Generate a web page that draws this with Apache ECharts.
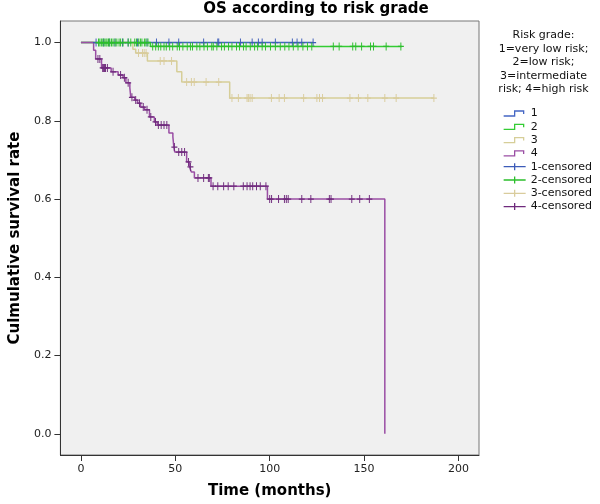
<!DOCTYPE html>
<html>
<head>
<meta charset="utf-8">
<script src="https://cdn.jsdelivr.net/npm/echarts@6/dist/echarts.min.js"></script>
<style>html,body{margin:0;padding:0;background:#fff}#c{width:600px;height:504px}</style>
</head>
<body>
<div id="c"></div>
<script>
// ---- data ----
const xTicks = [0, 50, 100, 150, 200];
const yTicks = [0, 0.2, 0.4, 0.6, 0.8, 1.0];

const g1Times = [0, 123];
const g1Surv  = [1, 1];
const g1Censor = [8, 12, 15, 18, 22, 25, 30, 35, 40, 46.6, 51.8, 65, 72.5, 73, 84.5, 90.7, 94, 96, 103, 112, 114.5, 117, 123];

const g2Times = [0, 36.8, 170];
const g2Surv  = [1, 0.99, 0.99];
const g2Censor = [9.3, 10, 10.8, 11.6, 12.3, 13.2, 13.8, 14.6, 15.3, 16.2, 17, 18.1, 19, 20.2, 21, 22.3, 25, 26.4, 28.5, 29.4, 30.6, 31.5, 32.3, 33.6, 34.4, 35.5,
  38, 39.6, 41, 42.3, 44, 45.2, 47, 48.6, 51, 52.2, 54, 56.3, 58, 59.1, 61.4, 63, 65.2, 67, 69.3, 70.1, 72, 74.5, 76, 78.2, 80, 82.4, 84, 86.1, 87.5, 89.7, 92, 93.6, 96, 97.8,
  100.4, 103, 105.6, 108, 110.2, 112.5, 115, 117.6, 120, 122.3, 133.7, 136.8, 144, 145.6, 148.7, 153.4, 155, 161.7, 169.5];

const g3Times = [0, 27.5, 29, 35.2, 50.8, 53.4, 78.8, 187];
const g3Surv  = [1, 0.983, 0.973, 0.953, 0.925, 0.899, 0.858, 0.858];
const g3Censor = [30.5, 32.6, 33.5, 34.5, 42, 44, 48, 56, 58.5, 60, 66.3, 73, 80, 83.4, 88, 88.7, 89.6, 90.7, 100.9, 105, 107.8, 118, 125, 126.4, 128, 142.5, 147, 152, 161, 167, 187];

const g4Times = [0, 6.7, 7.8, 10.9, 16, 19.7, 22.3, 23.8, 25.9, 26.4, 28.5, 30, 31.6, 33.7, 36.3, 38.9, 40.4, 46.6, 48.7, 49.2, 49.7, 56, 57.5, 58.5, 60.1, 68.9, 98.8, 161];
const g4Surv  = [1, 0.98, 0.958, 0.935, 0.925, 0.917, 0.91, 0.897, 0.884, 0.86, 0.853, 0.845, 0.835, 0.828, 0.81, 0.797, 0.789, 0.769, 0.759, 0.733, 0.72, 0.695, 0.682, 0.669, 0.654, 0.633, 0.6, 0];
const g4Censor = [9, 10, 11.5, 12, 12.5, 13, 14, 17, 21, 23, 25, 27, 29, 31, 33, 35, 37, 39.5, 41, 42.5, 44, 45.5, 49.5, 51.8, 53.4, 54.9, 57, 58, 62, 65, 67.5, 68,
  70, 72.5, 75.6, 78, 81, 86, 88, 89.6, 91, 93, 95, 98, 100, 101, 104.7, 107.8, 108.8, 109.8, 117, 121.8, 131.6, 132.5, 143.5, 147.7, 152.8];

const groupNames = ['1', '2', '3', '4'];
const censorNames = ['1-censored', '2-censored', '3-censored', '4-censored'];
const legendTitle = 'Risk grade:\n1=very low risk;\n2=low risk;\n3=intermediate\nrisk; 4=high risk';
const chartTitle = 'OS according to risk grade';
const xName = 'Time (months)';
const yName = 'Culmulative survival rate';

// ---- styling ----
const lineColors = ['#4466c4', '#33cc33', '#d6ce98', '#9a4ea4'];
const markColors = ['#3c5bb8', '#2bbf2b', '#d9cc9c', '#6f2a7c'];
const FONT = 'DejaVu Sans';

const groups = [
  [g1Times, g1Surv, g1Censor],
  [g2Times, g2Surv, g2Censor],
  [g3Times, g3Surv, g3Censor],
  [g4Times, g4Surv, g4Censor]
];

function survAt(times, surv, t) {
  let s = surv[0];
  for (let i = 0; i < times.length; i++) { if (times[i] <= t) s = surv[i]; }
  return s;
}

const series = [];
groups.forEach((g, i) => {
  series.push({
    name: groupNames[i], type: 'line', step: 'end', showSymbol: false, symbol: 'none',
    data: g[0].map((t, k) => [t, g[1][k]]),
    lineStyle: { color: lineColors[i], width: 1.5 }, itemStyle: { color: lineColors[i] },
    clip: false, z: 2 + i
  });
});
const crossPath = 'path://M0,4L6,4M3,0L3,8';
groups.forEach((g, i) => {
  series.push({
    name: censorNames[i], type: 'scatter', symbol: crossPath, symbolSize: [6, 8],
    data: g[2].map(t => [t, survAt(g[0], g[1], t)]),
    itemStyle: { color: 'rgba(0,0,0,0)', borderColor: markColors[i], borderWidth: 1.1, opacity: 1 },
    clip: false, z: 6 + i
  });
});

const stepIcon = 'path://M0,0M22,8M0,6.5L11,6.5L11,1.5L20,1.5L20,4.5';
const crossIcon = 'path://M0,4L22,4M11,0.5L11,7.5';
const legendData = [];
groupNames.forEach((n, i) => legendData.push({ name: n, icon: stepIcon,
  itemStyle: { color: 'rgba(0,0,0,0)', borderColor: lineColors[i], borderWidth: 1.3 } }));
censorNames.forEach((n, i) => legendData.push({ name: n, icon: crossIcon,
  itemStyle: { color: 'rgba(0,0,0,0)', borderColor: markColors[i], borderWidth: 1.3 } }));

const chart = echarts.init(document.getElementById('c'), null, { renderer: 'canvas' });
chart.setOption({
  animation: false,
  backgroundColor: '#ffffff',
  grid: { left: 51, top: 21, width: 428, height: 434, show: true, backgroundColor: '#f0f0f0', borderColor: '#777', borderWidth: 1 },
  xAxis: {
    type: 'value', min: -10.9, max: 210.9,
    name: xName, nameLocation: 'middle', nameGap: 29,
    nameTextStyle: { fontFamily: FONT, fontWeight: 'bold', fontSize: 15, color: '#000' },
    axisLine: { show: true, onZero: false, lineStyle: { color: '#333', width: 1 } },
    axisTick: { show: true, length: 6, customValues: xTicks, lineStyle: { color: '#333' } },
    axisLabel: { customValues: xTicks, margin: 9, fontFamily: FONT, fontSize: 11, color: '#222' },
    splitLine: { show: false }
  },
  yAxis: {
    type: 'value', min: -0.054, max: 1.055,
    name: yName, nameLocation: 'middle', nameGap: 32, nameRotate: 90,
    nameTextStyle: { fontFamily: FONT, fontWeight: 'bold', fontSize: 15, color: '#000' },
    axisLine: { show: true, onZero: false, lineStyle: { color: '#333', width: 1 } },
    axisTick: { show: true, length: 6, customValues: yTicks, lineStyle: { color: '#333' } },
    axisLabel: { customValues: yTicks, margin: 9, fontFamily: FONT, fontSize: 11, color: '#222',
      formatter: v => v.toFixed(1) },
    splitLine: { show: false }
  },
  legend: {
    orient: 'vertical', left: 498, top: 102, itemWidth: 22, itemHeight: 8, itemGap: 0.3,
    textStyle: { fontFamily: FONT, fontSize: 11, color: '#111', lineHeight: 13 },
    data: legendData, selectedMode: false
  },
  graphic: [
    { type: 'text', x: 316, y: 9, style: { text: chartTitle, font: 'bold 15px "DejaVu Sans"', fill: '#000', textAlign: 'center', textVerticalAlign: 'middle' } },
    { type: 'text', x: 543.5, y: 28.5, style: { text: legendTitle, font: '11px "DejaVu Sans"', fill: '#111', textAlign: 'center', textVerticalAlign: 'top', lineHeight: 13.5 } }
  ],
  series: series
});
</script>
</body>
</html>
